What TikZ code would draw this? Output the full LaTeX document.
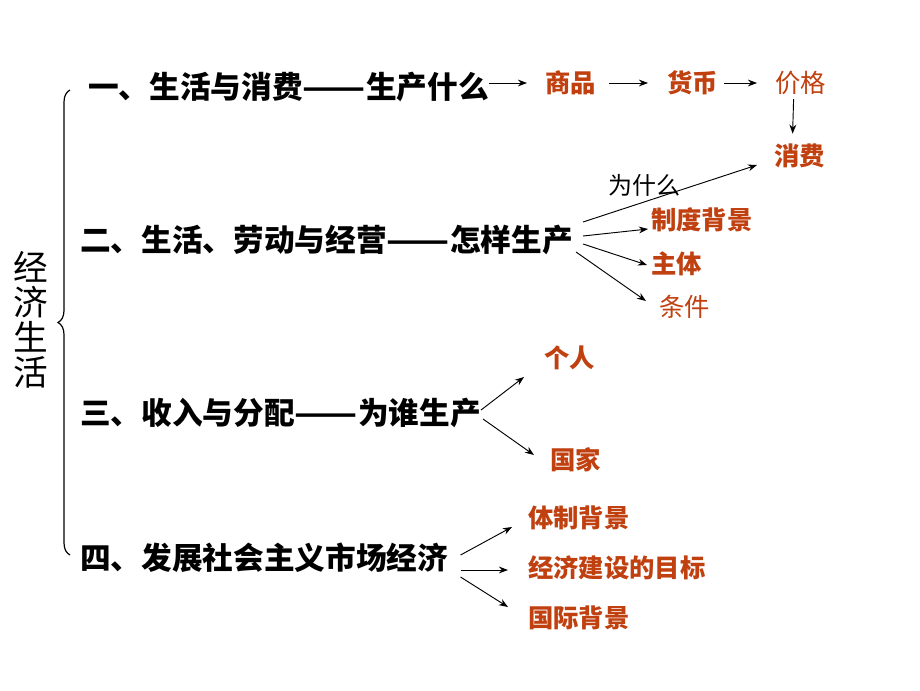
\documentclass[tikz,border=0pt]{standalone}
\usepackage{fontspec}
\setmainfont{Noto Sans CJK SC}
\usepackage{xcolor}
\usepackage{graphicx}
\usetikzlibrary{arrows.meta,decorations.pathreplacing}
\definecolor{itemred}{HTML}{C0400F}
\newcommand{\longdash}{\scalebox{1.2}[1]{——}}

\begin{document}
\begin{tikzpicture}[
  x=0.75pt,y=-0.75pt,
  head/.style={anchor=west,inner sep=0pt,font=\fontsize{23}{27}\selectfont\bfseries},
  item/.style={anchor=west,inner sep=0pt,text=itemred,font=\fontsize{19}{23}\selectfont\bfseries},
  itemlt/.style={item,font=\fontsize{19}{23}\selectfont},
  note/.style={anchor=west,inner sep=0pt,font=\fontsize{18}{22}\selectfont},
  a/.style={-{Stealth[length=2.4mm,width=1.8mm]},line width=0.7pt},
  brc/.style={line width=0.9pt,decorate,decoration={brace,amplitude=9pt}}]
\useasboundingbox[fill=white] (0,0) rectangle (920,690);
% left title and brace
\node[align=center,inner sep=0pt,font=\fontsize{26}{26.25}\selectfont] (title) at (31,320) {经\\济\\生\\活};
\draw[brc] (70,555) -- (70,90);
% the four headings
\node[head] (t1) at (88,87) {一、生活与消费\longdash 生产什么};
\node[head] (t2) at (80,240) {二、生活、劳动与经营\longdash 怎样生产};
\node[head] (t3) at (80,413) {三、收入与分配\longdash 为谁生产};
\node[head] (t4) at (80,558) {四、发展社会主义市场经济};
% first row
\node[item] (sp) at (545,83) {商品};
\node[item] (hb) at (667,83) {货币};
\node[itemlt] (jg) at (775,83) {价格};
\node[item] (xf) at (774,156) {消费};
\draw[a] ([shift={(0,-4)}]t1.east) -- ([shift={(-18,0)}]sp.west);
\draw[a] ([shift={(13,0)}]sp.east) -- ([shift={(-19,0)}]hb.west);
\draw[a] ([shift={(6,0)}]hb.east) -- ([shift={(-18,0)}]jg.west);
\draw[a] ([shift={(-7,4)}]jg.south) -- ([shift={(-7,-10)}]xf.north);
% second row
\node[note] (wsm) at (608,185) {为什么};
\node[item] (zd) at (651,220) {制度背景};
\node[item] (zt) at (651,264) {主体};
\node[itemlt] (tj) at (659,307) {条件};
\draw[a] ([shift={(10,-18)}]t2.east) -- ([shift={(-17,9)}]xf.west);
\draw[a] ([shift={(10,-4)}]t2.east) -- ([shift={(-3,9)}]zd.west);
\draw[a] ([shift={(10,4)}]t2.east) -- ([shift={(-4,1)}]zt.west);
\draw[a] ([shift={(3,12)}]t2.east) -- ([shift={(-13,-6)}]tj.west);
% third row
\node[item] (gr) at (544,358) {个人};
\node[item] (gj) at (550,460) {国家};
\draw[a] ([shift={(0,-3)}]t3.east) -- ([shift={(-20,19)}]gr.west);
\draw[a] ([shift={(2,6)}]t3.east) -- ([shift={(-16,-5)}]gj.west);
% fourth row
\node[item] (tz) at (528,518) {体制背景};
\node[item] (jj) at (528,568) {经济建设的目标};
\node[item] (gb) at (528,618) {国际背景};
\draw[a] ([shift={(12,-3)}]t4.east) -- ([shift={(-16,9)}]tz.west);
\draw[a] ([shift={(12,12)}]t4.east) -- ([shift={(-20,2)}]jj.west);
\draw[a] ([shift={(12,19)}]t4.east) -- ([shift={(-20,-11)}]gb.west);
\end{tikzpicture}
\end{document}
